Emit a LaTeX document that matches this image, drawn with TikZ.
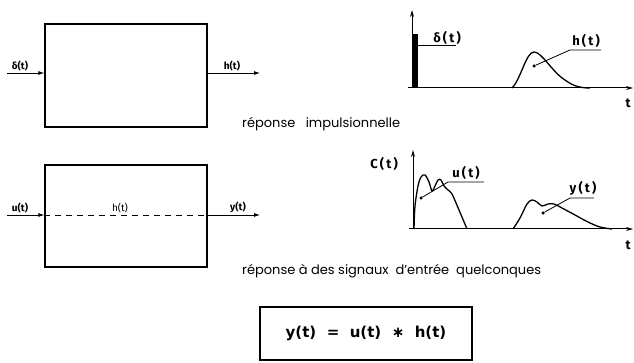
\documentclass[tikz,border=0pt]{standalone}
\usepackage{fontspec}
\setmainfont{Poppins}
\newfontfamily\labf{Fira Sans}
\newfontfamily\eqf{DejaVu Sans}
\usetikzlibrary{arrows.meta}
\begin{document}
\begin{tikzpicture}[x=1pt,y=-1pt,
 blk/.style={draw, line width=1.3pt, minimum width=162pt, minimum height=103pt, inner sep=0pt},
 sig/.style={-{Latex[length=6pt,width=4pt]}, line width=0.8pt},
 lab/.style={font=\labf\bfseries\fontsize{10}{12}\selectfont, inner sep=1pt, anchor=south},
 glab/.style={font=\labf\bfseries\fontsize{13}{15}\selectfont, inner sep=1pt},
 captxt/.style={font=\fontsize{13}{15}\selectfont, anchor=west, inner sep=0pt},
 curve/.style={line width=1.3pt, line join=round},
 leader/.style={line width=0.8pt},
 axis/.style={line width=1pt, -{Stealth[length=7pt,width=4pt]}},
 dotmark/.style={circle, fill, inner sep=0pt, minimum size=3.5pt}
]
\useasboundingbox (0,0) rectangle (634,363);

% ---------- block 1 ----------
\node[blk] (b1) at (126,75.5) {};
\coordinate (in1) at (7,73);
\coordinate (out1) at (260,73);
\draw[sig] (in1) -- (b1.west |- in1);
\draw[sig] (b1.east |- out1) -- (out1);
\node[lab] (ld1) at (20,72) {δ(t)};
\node[lab] (lh1) at (232,72) {h(t)};
\node[captxt] (cap1) at (242,124) {réponse\ \ \ impulsionnelle};

% ---------- block 2 ----------
\node[blk, minimum height=102pt] (b2) at (126,216) {};
\coordinate (in2) at (7,215);
\coordinate (out2) at (260,215);
\draw[sig] (in2) -- (b2.west |- in2);
\draw[line width=0.8pt, dash pattern=on 6pt off 5pt] (b2.west |- in2) -- (b2.east |- in2);
\draw[sig] (b2.east |- out2) -- (out2);
\node[lab] (lu2) at (20,214) {u(t)};
\node[lab, font=\labf\fontsize{10}{12}\selectfont] (lh2) at (120,214) {h(t)};
\node[lab] (ly2) at (238,214) {y(t)};
\node[captxt] (cap2) at (242,271) {réponse à des signaux\ \ d’entrée\ \ quelconques};

% ---------- equation ----------
\node[draw, line width=1.3pt, minimum width=212pt, minimum height=53pt,
      font=\eqf\bfseries\fontsize{15}{18}\selectfont] (eq) at (366,333.5)
      {y(t)\ \ =\ \ u(t)\ \ ∗\ \ h(t)};

% ---------- graph 1 ----------
\coordinate (o1) at (412,88);
\coordinate (x1s) at (408,88);
\coordinate (x1e) at (633,88);
\coordinate (y1e) at (412,10);
\draw[axis] (o1) -- (y1e);
\draw[axis] (x1s) -- (x1e);
\fill (412,34) rectangle (418,88);
\node[glab, anchor=south] (ld) at (447,46) {δ\,(\,t\,)};
\coordinate (ldl) at (418,45);
\coordinate (ldr) at (456,45);
\draw[leader] (ldl) -- (ldr);
\draw[curve] (512,88) .. controls (521,79) and (526,52) .. (534,52)
  .. controls (542,52) and (552,72) .. (565,80)
  .. controls (572,85) and (578,88) .. (590,88);
\node[dotmark] (hd) at (534,66) {};
\coordinate (hk) at (570,50);
\coordinate (he) at (601,50);
\draw[leader] (hd) -- (hk) -- (he);
\node[glab, anchor=south] (lh) at (586,49) {h\,(\,t\,)};
\node[glab] (t1) at (628,103) {t};

% ---------- graph 2 ----------
\coordinate (o2) at (413,229);
\coordinate (x2s) at (409,229);
\coordinate (x2e) at (633,229);
\coordinate (y2e) at (413,150);
\draw[axis] (o2) -- (y2e);
\draw[axis] (x2s) -- (x2e);
\node[glab] (lc) at (384,164) {C\,(\,t\,)};
\draw[curve] plot[smooth, tension=0.55] coordinates {(414,229) (415,206) (418,186) (421,177) (425,175) (429,182) (432,191) (435,186) (438,180) (441,180) (444,186) (448,190) (452,194) (459,210) (467,229)};
\node[dotmark] (ud) at (421,198) {};
\coordinate (uk) at (448,182);
\coordinate (ue) at (484,182);
\draw[leader] (ud) -- (uk) -- (ue);
\node[glab, anchor=south] (lu) at (466,181) {u\,(\,t\,)};
\draw[curve] plot[smooth, tension=0.55] coordinates {(513,229) (520,218) (527,204) (532,200) (537,202) (542,206) (548,204) (554,204) (562,208) (575,215) (588,222) (600,227) (612,229)};
\node[dotmark] (yd) at (543,213) {};
\coordinate (yk) at (570,198);
\coordinate (ye) at (594,198);
\draw[leader] (yd) -- (yk) -- (ye);
\node[glab, anchor=south] (ly) at (583,197) {y\,(\,t\,)};
\node[glab] (t2) at (628,245) {t};
\end{tikzpicture}
\end{document}
